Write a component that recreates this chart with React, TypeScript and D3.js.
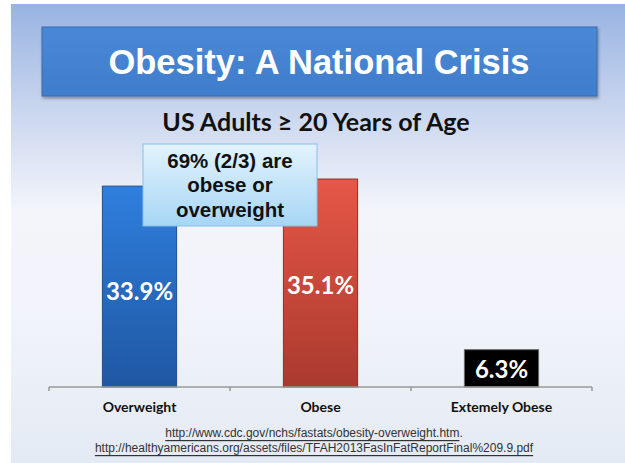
import React from "react";
import * as d3 from "d3";

const categories = ["Overweight", "Obese", "Extemely Obese"];
const values = [33.9, 35.1, 6.3];
const valueLabels = ["33.9%", "35.1%", "6.3%"];
const title = "Obesity: A National Crisis";
const subtitle = "US Adults \u2265 20 Years of Age";
const calloutLines = ["69% (2/3) are", "obese or", "overweight"];
const sources = [
  "http://www.cdc.gov/nchs/fastats/obesity-overweight.htm",
  "http://healthyamericans.org/assets/files/TFAH2013FasInFatReportFinal%209.9.pdf",
];

const W = 625;
const H = 463;

export default function App() {
  const x = d3.scaleBand<string>().domain(categories).range([49, 592]).paddingInner(0).paddingOuter(0);
  const y = d3.scaleLinear().domain([0, 40]).range([387, 150]);
  const barW = x.bandwidth() * 0.41;
  const fills = ["url(#gBlue)", "url(#gRed)", "url(#gBlack)"];
  const strokes = ["#1d4f8f", "#8f2f25", "#6a6a6a"];
  const ticks = [...categories.map((c) => x(c) as number), 592];
  const sans = "'Liberation Sans', Arial, sans-serif";
  const cal = "Lato, 'Open Sans', sans-serif";

  return (
    <svg width={W} height={H} style={{ position: "fixed", left: 0, top: 0 }} xmlns="http://www.w3.org/2000/svg">
      <defs>
        <linearGradient id="bg" x1="0" y1="0" x2="0" y2="1">
          <stop offset="0" stopColor="#98b3e2" />
          <stop offset="0.28" stopColor="#d3ddf1" />
          <stop offset="0.45" stopColor="#f3f5fb" />
          <stop offset="0.7" stopColor="#f0f3f9" />
          <stop offset="1" stopColor="#e4eaf4" />
        </linearGradient>
        <linearGradient id="gTitle" x1="0" y1="0" x2="0" y2="1">
          <stop offset="0" stopColor="#4a88d6" />
          <stop offset="1" stopColor="#3f7dcc" />
        </linearGradient>
        <linearGradient id="gBlue" x1="0" y1="0" x2="0" y2="1">
          <stop offset="0" stopColor="#2f7fde" />
          <stop offset="1" stopColor="#1f57a2" />
        </linearGradient>
        <linearGradient id="gRed" x1="0" y1="0" x2="0" y2="1">
          <stop offset="0" stopColor="#e65747" />
          <stop offset="1" stopColor="#aa3a2e" />
        </linearGradient>
        <linearGradient id="gBlack" x1="0" y1="0" x2="0" y2="1">
          <stop offset="0" stopColor="#000" />
          <stop offset="1" stopColor="#000" />
        </linearGradient>
        <linearGradient id="gCallout" x1="0" y1="0" x2="0" y2="1">
          <stop offset="0" stopColor="#e3f3fd" />
          <stop offset="1" stopColor="#a6d6f5" />
        </linearGradient>
        <filter id="shadow" x="-5%" y="-10%" width="110%" height="130%">
          <feDropShadow dx="1" dy="2" stdDeviation="1.5" floodColor="#000" floodOpacity="0.35" />
        </filter>
      </defs>
      <rect x={0} y={0} width={W} height={H} fill="#fff" />
      <rect x={11} y={4} width={W - 11} height={H - 4} fill="url(#bg)" />

      {/* Title box */}
      <rect x={42} y={27} width={555} height={69} fill="url(#gTitle)" stroke="#3a6db0" strokeWidth={1} filter="url(#shadow)" />
      <text x={319} y={62} fill="#fff" fontFamily={sans} fontWeight="bold" fontSize={34.5} textAnchor="middle" dominantBaseline="central">
        {title}
      </text>

      <text x={316} y={121} fill="#111" fontFamily={cal} fontWeight="bold" fontSize={25} textAnchor="middle" dominantBaseline="central">
        {subtitle}
      </text>

      {/* Bars */}
      {categories.map((c, i) => {
        const cx = (x(c) as number) + x.bandwidth() / 2;
        return (
          <rect key={c} x={cx - barW / 2} y={y(values[i])} width={barW} height={y(0) - y(values[i])} fill={fills[i]} stroke={strokes[i]} strokeWidth={1} />
        );
      })}

      {/* Axis */}
      <line x1={49} x2={592} y1={387} y2={387} stroke="#999" strokeWidth={1.5} />
      {ticks.map((t, i) => (
        <line key={i} x1={t} x2={t} y1={387} y2={391} stroke="#999" strokeWidth={1.5} />
      ))}
      {categories.map((c) => (
        <text key={c} x={(x(c) as number) + x.bandwidth() / 2} y={406} fill="#111" fontFamily={cal} fontWeight="bold" fontSize={14} textAnchor="middle" dominantBaseline="central">
          {c}
        </text>
      ))}

      {/* value labels */}
      {categories.map((c, i) => {
        const cx = (x(c) as number) + x.bandwidth() / 2;
        const ly = i === 2 ? (y(values[i]) + y(0)) / 2 : i === 0 ? 290 : 284;
        return (
          <text key={c} x={cx} y={ly} fill="#fff" fontFamily={cal} fontWeight="bold" fontSize={24} textAnchor="middle" dominantBaseline="central">
            {valueLabels[i]}
          </text>
        );
      })}

      {/* Callout */}
      <rect x={143} y={144} width={174} height={82} fill="url(#gCallout)" stroke="#86c1ea" strokeWidth={1} />
      {calloutLines.map((l, i) => (
        <text key={l} x={230} y={160 + i * 24.5} fill="#111" fontFamily={sans} fontWeight="bold" fontSize={20.5} textAnchor="middle" dominantBaseline="central">
          {l}
        </text>
      ))}

      {/* Sources */}
      {sources.map((s, i) => (
        <text key={s} x={314} y={433 + i * 15} fill="#333" fontFamily={sans} fontSize={12} textAnchor="middle" dominantBaseline="central">
          <tspan textDecoration="underline">{s}</tspan>
          {i === 0 ? <tspan>.</tspan> : null}
        </text>
      ))}
    </svg>
  );
}
